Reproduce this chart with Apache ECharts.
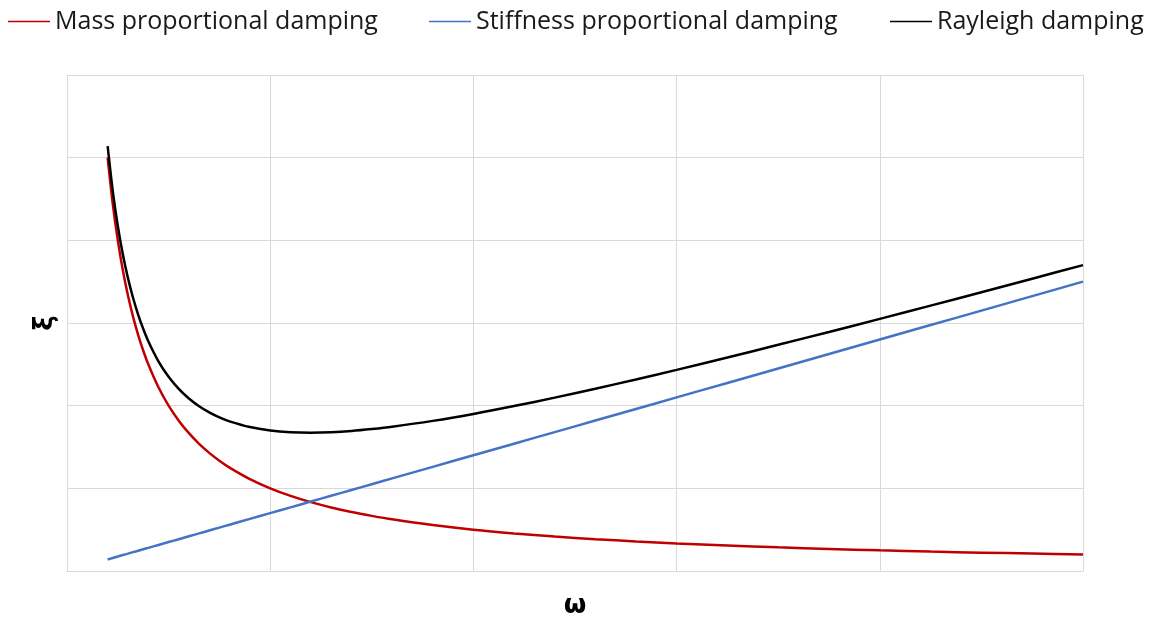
<!DOCTYPE html>
<html>
<head>
<meta charset="utf-8">
<script src="https://cdn.jsdelivr.net/npm/echarts@6/dist/echarts.min.js"></script>
<style>
  html, body { margin: 0; padding: 0; background: #fff; }
  #chart { width: 1158px; height: 618px; }
</style>
</head>
<body>
<div id="chart"></div>
<script>
// Angular frequency samples
const omega = [0.2, 0.225, 0.25, 0.275, 0.3, 0.325, 0.35, 0.375, 0.4, 0.45, 0.5, 0.55, 0.6, 0.65, 0.7, 0.75, 0.8, 0.9, 1.0, 1.1, 1.2, 1.3, 1.4, 1.5, 1.6, 1.8, 2.0, 2.2, 2.4, 2.6, 2.8, 3.0, 3.25, 3.5, 3.75, 4.0, 4.25, 4.5, 4.75, 5.0];

// Damping ratio contributions at each frequency
const massDamping = [5.0, 4.444, 4.0, 3.636, 3.333, 3.077, 2.857, 2.667, 2.5, 2.222, 2.0, 1.818, 1.667, 1.538, 1.429, 1.333, 1.25, 1.111, 1.0, 0.909, 0.833, 0.769, 0.714, 0.667, 0.625, 0.556, 0.5, 0.455, 0.417, 0.385, 0.357, 0.333, 0.308, 0.286, 0.267, 0.25, 0.235, 0.222, 0.211, 0.2];
const stiffnessDamping = [0.14, 0.158, 0.175, 0.193, 0.21, 0.228, 0.245, 0.263, 0.28, 0.315, 0.35, 0.385, 0.42, 0.455, 0.49, 0.525, 0.56, 0.63, 0.7, 0.77, 0.84, 0.91, 0.98, 1.05, 1.12, 1.26, 1.4, 1.54, 1.68, 1.82, 1.96, 2.1, 2.275, 2.45, 2.625, 2.8, 2.975, 3.15, 3.325, 3.5];
const rayleighDamping = [5.14, 4.602, 4.175, 3.829, 3.543, 3.305, 3.102, 2.93, 2.78, 2.537, 2.35, 2.203, 2.087, 1.993, 1.919, 1.858, 1.81, 1.741, 1.7, 1.679, 1.673, 1.679, 1.694, 1.717, 1.745, 1.816, 1.9, 1.995, 2.097, 2.205, 2.317, 2.433, 2.583, 2.736, 2.892, 3.05, 3.21, 3.372, 3.536, 3.7];

const seriesNames = ['Mass proportional damping', 'Stiffness proportional damping', 'Rayleigh damping'];
const seriesColors = ['#c00000', '#4472c4', '#000000'];
const seriesValues = [massDamping, stiffnessDamping, rayleighDamping];
const legendLeft = [8, 429, 890];

const chart = echarts.init(document.getElementById('chart'));

const pairs = vals => omega.map((w, i) => [w, vals[i]]);

chart.setOption({
  animation: false,
  legend: seriesNames.map((n, i) => ({
    top: 9,
    left: legendLeft[i],
    padding: 0,
    itemWidth: 42,
    itemHeight: 10,
    icon: 'path://M0,4.2 L42,4.2 L42,5.8 L0,5.8 Z',
    textStyle: { fontFamily: 'Open Sans', fontSize: 25, color: '#1a1a1a' },
    data: [{ name: n, itemStyle: { color: seriesColors[i] } }]
  })),
  grid: { left: 67, right: 75, top: 75, bottom: 47, outerBoundsMode: 'none' },
  xAxis: {
    type: 'value',
    min: 0, max: 5, interval: 1,
    name: 'ω',
    nameLocation: 'middle',
    nameGap: 22,
    nameTextStyle: { fontFamily: 'DejaVu Sans', fontWeight: 'bold', fontSize: 26, color: '#000' },
    axisLine: { show: true, lineStyle: { color: '#d9d9d9', width: 1 } },
    axisTick: { show: false },
    axisLabel: { show: false },
    splitLine: { show: true, lineStyle: { color: '#d9d9d9', width: 1 } }
  },
  yAxis: {
    type: 'value',
    min: 0, max: 6, interval: 1,
    name: 'ξ',
    nameLocation: 'middle',
    nameGap: 9,
    nameRotate: 90,
    nameTextStyle: { fontFamily: 'DejaVu Sans', fontWeight: 'bold', fontSize: 26, color: '#000' },
    axisLine: { show: true, lineStyle: { color: '#d9d9d9', width: 1 } },
    axisTick: { show: false },
    axisLabel: { show: false },
    splitLine: { show: true, lineStyle: { color: '#d9d9d9', width: 1 } }
  },
  series: seriesNames.map((n, i) => ({
    name: n,
    type: 'line',
    data: pairs(seriesValues[i]),
    smooth: 0.3,
    showSymbol: false,
    symbol: 'none',
    lineStyle: { color: seriesColors[i], width: 2.5 },
    itemStyle: { color: seriesColors[i] },
    z: i === 2 ? 3 : 2
  }))
});
</script>
</body>
</html>
